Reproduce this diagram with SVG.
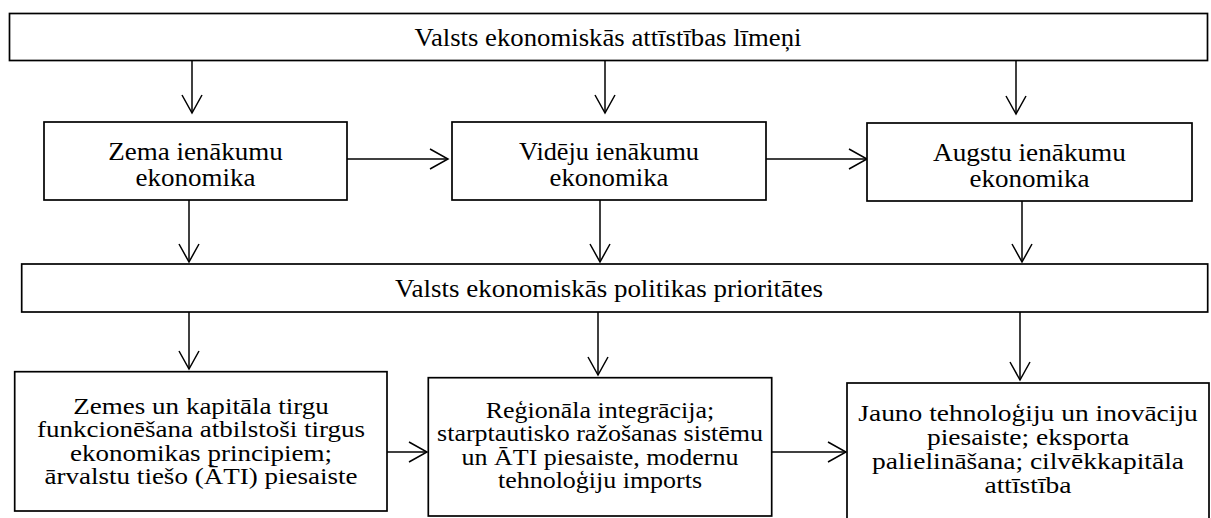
<svg xmlns="http://www.w3.org/2000/svg" width="1211" height="518" viewBox="0 0 1211 518">
<style>
.box{fill:#fff;stroke:#000;stroke-width:1.7}
.t{font-family:"Liberation Serif","Times New Roman",serif;font-size:25px;fill:#000;text-anchor:middle}
.b{font-size:23.5px}
.h{font-size:23px}
.c{stroke:#000;stroke-width:1.5;fill:none;marker-end:url(#ah)}
</style>
<defs>
<marker id="ah" viewBox="-20 -12 22 24" markerWidth="22" markerHeight="24" refX="0" refY="0" orient="auto" markerUnits="userSpaceOnUse">
<path d="M-18,-10 L0,0 L-18,10" fill="none" stroke="#000" stroke-width="1.5"/>
</marker>
</defs>
<rect width="1211" height="518" fill="#fff"/>
<g id="connectors">
<line class="c" x1="192" y1="61" x2="192" y2="113"/>
<line class="c" x1="605" y1="61" x2="605" y2="113"/>
<line class="c" x1="1016" y1="61" x2="1016" y2="114"/>
<line class="c" x1="347" y1="159" x2="448" y2="159"/>
<line class="c" x1="766" y1="159" x2="867" y2="159"/>
<line class="c" x1="189" y1="200" x2="189" y2="262"/>
<line class="c" x1="600" y1="200" x2="600" y2="262"/>
<line class="c" x1="1022" y1="201" x2="1022" y2="262"/>
<line class="c" x1="189" y1="312" x2="189" y2="369"/>
<line class="c" x1="598" y1="312" x2="598" y2="375"/>
<line class="c" x1="1020" y1="312" x2="1020" y2="380"/>
<line class="c" x1="387" y1="452" x2="427" y2="452"/>
<line class="c" x1="772" y1="452" x2="846" y2="452"/>
</g>
<g id="levels">
<rect class="box" x="9.5" y="13.5" width="1198" height="47"/>
<text class="t" transform="translate(608 45.5) scale(1.07 1)">Valsts ekonomiskās attīstības līmeņi</text>
</g>
<g id="low">
<rect class="box" x="44" y="122" width="303" height="78"/>
<text class="t" transform="translate(195.5 160) scale(1.08 1)">Zema ienākumu</text>
<text class="t" transform="translate(195.5 185.5) scale(1.08 1)">ekonomika</text>
</g>
<g id="mid">
<rect class="box" x="452" y="122" width="314" height="78"/>
<text class="t" transform="translate(609 160) scale(1.05 1)">Vidēju ienākumu</text>
<text class="t" transform="translate(609 185.5) scale(1.07 1)">ekonomika</text>
</g>
<g id="high">
<rect class="box" x="867" y="123" width="325" height="78"/>
<text class="t" transform="translate(1029.5 161) scale(1.09 1)">Augstu ienākumu</text>
<text class="t" transform="translate(1029.5 186.5) scale(1.08 1)">ekonomika</text>
</g>
<g id="priorities">
<rect class="box" x="21.7" y="264" width="1186" height="48"/>
<text class="t" transform="translate(609 296.5) scale(1.08 1)">Valsts ekonomiskās politikas prioritātes</text>
</g>
<g id="p-low">
<rect class="box" x="14.7" y="371.7" width="372.3" height="139.3"/>
<text class="t b" transform="translate(201 413.5) scale(1.15 1)">Zemes un kapitāla tirgu</text>
<text class="t b" transform="translate(201 437) scale(1.15 1)">funkcionēšana atbilstoši tirgus</text>
<text class="t b" transform="translate(201 460.5) scale(1.15 1)">ekonomikas principiem;</text>
<text class="t b" transform="translate(201 484) scale(1.15 1)">ārvalstu tiešo (ĀTI) piesaiste</text>
</g>
<g id="p-mid">
<rect class="box" x="428.3" y="377.7" width="343.4" height="138.3"/>
<text class="t b" transform="translate(600 417.5) scale(1.105 1)">Reģionāla integrācija;</text>
<text class="t b" transform="translate(600 441) scale(1.105 1)">starptautisko ražošanas sistēmu</text>
<text class="t b" transform="translate(600 464.5) scale(1.105 1)">un ĀTI piesaiste, modernu</text>
<text class="t b" transform="translate(600 488) scale(1.105 1)">tehnoloģiju imports</text>
</g>
<g id="p-high">
<rect class="box" x="847" y="383" width="362" height="145"/>
<text class="t h" transform="translate(1028 421) scale(1.195 1)">Jauno tehnoloģiju un inovāciju</text>
<text class="t h" transform="translate(1028 445) scale(1.195 1)">piesaiste; eksporta</text>
<text class="t h" transform="translate(1028 469) scale(1.195 1)">palielināšana; cilvēkkapitāla</text>
<text class="t h" transform="translate(1028 493) scale(1.195 1)">attīstība</text>
</g>
</svg>
